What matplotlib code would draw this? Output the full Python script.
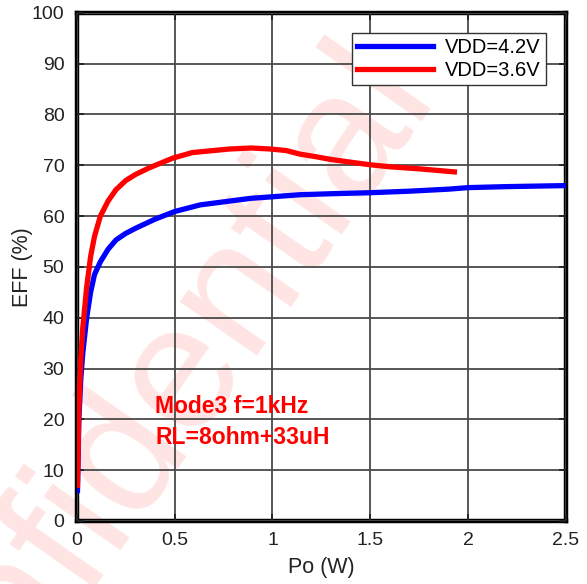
import matplotlib.pyplot as plt

plt.rcParams['font.family'] = ['Liberation Sans', 'DejaVu Sans']

# VDD=4.2V
po_42 = [0.003, 0.01, 0.02, 0.03, 0.05, 0.07, 0.09, 0.12, 0.16, 0.2, 0.25, 0.3,
         0.4, 0.5, 0.63, 0.75, 0.89, 1.0, 1.14, 1.3, 1.5, 1.7, 1.9, 2.0, 2.2, 2.5]
eff_42 = [6, 20, 28, 33, 40, 45, 48.5, 51, 53.5, 55.3, 56.6, 57.6,
          59.4, 60.9, 62.2, 62.8, 63.5, 63.8, 64.2, 64.4, 64.6, 64.9, 65.3, 65.6, 65.8, 66.0]

# VDD=3.6V
po_36 = [0.003, 0.01, 0.02, 0.03, 0.05, 0.07, 0.09, 0.12, 0.16, 0.2, 0.25, 0.3,
         0.37, 0.49, 0.59, 0.78, 0.89, 0.99, 1.07, 1.14, 1.22, 1.29, 1.4, 1.5,
         1.6, 1.75, 1.93]
eff_36 = [7, 22, 32, 38, 46, 52, 56, 60, 63, 65.2, 67, 68.2,
          69.5, 71.4, 72.5, 73.2, 73.4, 73.2, 72.9, 72.2, 71.7, 71.2, 70.6, 70.1,
          69.7, 69.3, 68.7]

fig = plt.figure(figsize=(5.87, 5.84), dpi=100)
ax = fig.add_axes([0.131, 0.108, 0.833, 0.870])
ax.patch.set_alpha(0)

# watermark behind everything
fig.text(0.216, 0.231, 'Confidential', fontsize=128, color='red', alpha=0.11,
         rotation=55, ha='center', va='center', rotation_mode='anchor', zorder=-1)

ax.plot(po_42, eff_42, color='#0000ff', lw=3.8, label='VDD=4.2V', zorder=3)
ax.plot(po_36, eff_36, color='#ff0000', lw=3.8, label='VDD=3.6V', zorder=3)

ax.set_xlim(0, 2.5)
ax.set_ylim(0, 100)
ax.set_xticks([0, 0.5, 1, 1.5, 2, 2.5])
ax.set_xticklabels(['0', '0.5', '1', '1.5', '2', '2.5'])
ax.set_yticks(range(0, 101, 10))
ax.grid(True, color='#4a4a4a', lw=1.3)
ax.set_axisbelow(False)
ax.tick_params(direction='in', length=5, width=1.3, top=True, right=True,
               labelsize=14, colors='#222222')
ax.tick_params(axis='x', pad=8)
ax.tick_params(axis='y', pad=9)
for s in ax.spines.values():
    s.set_linewidth(3.2)
    s.set_color('black')

ax.set_xlabel('Po (W)', fontsize=15.5, color='#222222', labelpad=6)
ax.set_ylabel('EFF (%)', fontsize=15.5, color='#222222', labelpad=-1)

ax.text(0.4, 22.6, 'Mode3 f=1kHz', color='red', fontsize=16.5, fontweight='bold',
        va='center')
ax.text(0.4, 16.4, 'RL=8ohm+33uH', color='red', fontsize=16.5, fontweight='bold',
        va='center')

leg = ax.legend(loc='upper right', bbox_to_anchor=(0.959, 0.961), fontsize=14.5,
                handlelength=3.8, fancybox=False, framealpha=1,
                edgecolor='#333333', borderpad=0.25, labelspacing=0.2,
                handletextpad=0.6, borderaxespad=0)
leg.get_frame().set_linewidth(1.0)

fig.savefig('out.png', dpi=100)
